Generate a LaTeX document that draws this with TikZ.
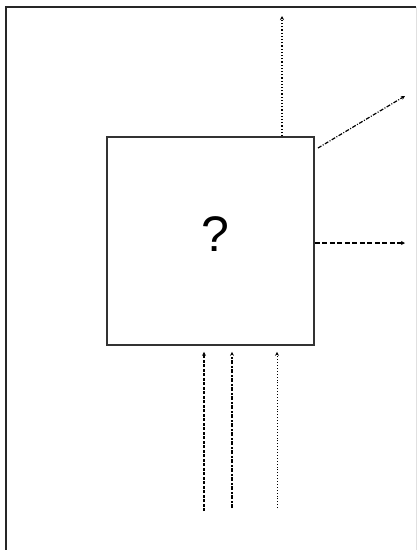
\documentclass[tikz,border=0pt]{standalone}
\usepackage{fontspec}
\setmainfont{Liberation Sans}
\usetikzlibrary{arrows.meta}
\tikzset{
	flow/.style={line width=1.2pt, -{Stealth[length=4pt, width=4pt]}},
}
\begin{document}
\begin{tikzpicture}[x=1pt, y=-1pt]
	\useasboundingbox (0,0) rectangle (417,550);

	% outer frame
	\draw[line width=2pt, color=black!85] (6,550) -- (6,7) -- (416,7);
	\draw[line width=1pt, color=black!12] (416,7) -- (416,550);

	% the unknown box
	\node[draw, line width=1.6pt, color=black!80, minimum width=207pt, minimum height=208pt, inner sep=0pt] (box) at (210.5, 241) {};
	\node[font=\fontsize{50}{60}\selectfont] (q) at (215, 234) {?};

	% outputs
	\coordinate (outTop) at (282, 16);
	\coordinate (diagStart) at (318, 148);
	\coordinate (outDiag) at (405, 96);
	\coordinate (outRight) at (405, 243);
	\draw[flow, dotted] (outTop |- box.north) -- (outTop);
	\draw[flow, dash pattern=on 4pt off 1.5pt on 1pt off 1.5pt] (diagStart) -- (outDiag);
	\draw[flow, dash pattern=on 5pt off 2.5pt] (box.east |- outRight) -- (outRight);

	% inputs
	\coordinate (in1) at (204, 511);
	\coordinate (in2) at (232, 508);
	\coordinate (in3) at (277, 508);
	\draw[flow, dash pattern=on 3pt off 1.5pt] (in1) -- ([yshift=-6pt]in1 |- box.south);
	\draw[flow, line width=1.6pt, dash pattern=on 4pt off 1.5pt on 2pt off 1.5pt] (in2) -- ([yshift=-6pt]in2 |- box.south);
	\draw[flow, line width=0.9pt, dotted] (in3) -- ([yshift=-6pt]in3 |- box.south);
\end{tikzpicture}
\end{document}
